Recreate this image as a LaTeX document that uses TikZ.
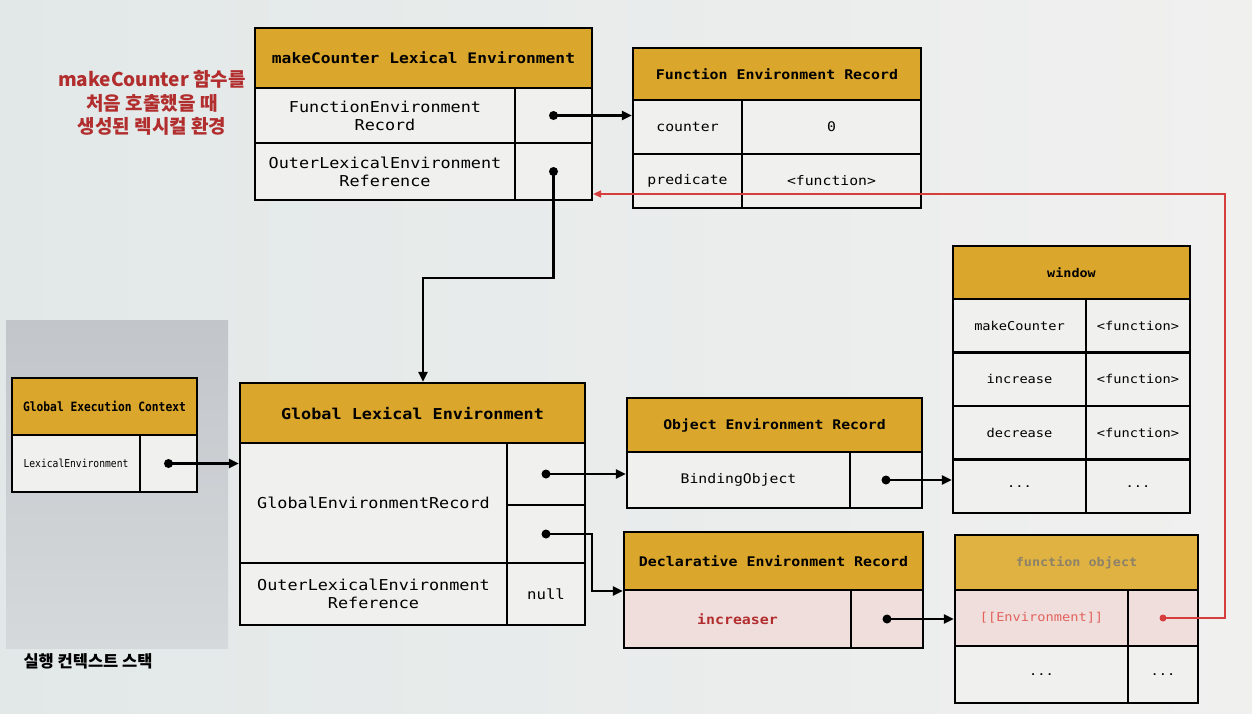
\documentclass[tikz,border=0pt]{standalone}
\usepackage{fontspec}
\usetikzlibrary{arrows.meta,calc}
\newfontfamily\mono{DejaVu Sans Mono}[FakeStretch=1.12]
\newfontfamily\monoc{DejaVu Sans Mono}[FakeStretch=0.88]
\newfontfamily\kr{Noto Sans CJK KR}
\definecolor{gold}{RGB}{219,166,44}
\definecolor{goldlt}{RGB}{224,178,66}
\definecolor{cellbg}{RGB}{240,240,238}
\definecolor{pageL}{RGB}{226,232,232}
\definecolor{pageR}{RGB}{240,240,239}
\definecolor{pinkbg}{RGB}{240,222,221}
\definecolor{krred}{RGB}{178,45,45}
\definecolor{lnred}{RGB}{214,62,62}
\definecolor{salmon}{RGB}{226,98,92}
\definecolor{stackT}{RGB}{194,198,203}
\definecolor{stackB}{RGB}{214,217,219}
\definecolor{fadetxt}{RGB}{140,130,105}
\tikzset{
  cell/.style={draw=black, line width=2.2pt, fill=cellbg, inner sep=0pt, align=center,
    font=\mono\fontsize{15}{18}\selectfont},
  cellS/.style={cell, font=\mono\fontsize{13.2}{16}\selectfont},
  cellW/.style={cell, font=\mono\fontsize{12.2}{15}\selectfont},
  head/.style={cell, fill=gold},
  dotb/.style={circle, fill=black, inner sep=0pt, minimum size=9pt},
  dotr/.style={circle, fill=lnred, inner sep=0pt, minimum size=7pt},
  arr/.style={draw=black, line width=2.4pt, -{Triangle[length=10pt,width=9pt]}},
  redarr/.style={draw=lnred, line width=1.4pt, -{Triangle[length=8pt,width=7pt]}}
}
\begin{document}
\begin{tikzpicture}[x=1pt,y=-1pt]
\useasboundingbox (0,0) rectangle (1252,713);
\shade[left color=pageL, right color=pageR] (0,0) rectangle (1252,713);
\shade[top color=stackT, bottom color=stackB] (6,320) rectangle (228,648);

% label
\node[font=\kr\bfseries\fontsize{19}{23.5}\selectfont, text=krred, align=center] (lbl) at (152,103)
  {makeCounter 함수를\\처음 호출했을 때\\생성된 렉시컬 환경};
\node[font=\kr\bfseries\fontsize{16.5}{19}\selectfont] (stk) at (88,661) {실행 컨텍스트 스택};

% makeCounter Lexical Environment
\node[head, font=\mono\bfseries\fontsize{14.5}{17}\selectfont, minimum width=337pt, minimum height=60pt] (mcH) at (423.5,58) {makeCounter Lexical Environment};
\node[cell, minimum width=260pt, minimum height=55pt] (mc1k) at (385,115.5) {FunctionEnvironment\\Record};
\node[cell, minimum width=77pt, minimum height=55pt] (mc1v) at (553.5,115.5) {};
\node[cell, minimum width=260pt, minimum height=57pt] (mc2k) at (385,171.5) {OuterLexicalEnvironment\\Reference};
\node[cell, minimum width=77pt, minimum height=57pt] (mc2v) at (553.5,171.5) {};

% Function Environment Record
\node[head, font=\mono\bfseries\fontsize{13.3}{16}\selectfont, minimum width=288pt, minimum height=52pt] (ferH) at (777,74) {Function Environment Record};
\node[cellS, minimum width=109pt, minimum height=54pt] (fer1k) at (687.5,127) {counter};
\node[cellS, minimum width=179pt, minimum height=54pt] (fer1v) at (831.5,127) {0};
\node[cellS, minimum width=109pt, minimum height=54pt] (fer2k) at (687.5,181) {predicate};
\node[cellS, minimum width=179pt, minimum height=54pt] (fer2v) at (831.5,181) {<function>};

% Global Execution Context
\node[head, font=\monoc\bfseries\fontsize{12.8}{15}\selectfont, minimum width=185pt, minimum height=57pt] (gecH) at (104.5,406.5) {Global Execution Context};
\node[cell, font=\monoc\fontsize{11}{13}\selectfont, minimum width=128pt, minimum height=57pt] (gec1k) at (76,463.5) {LexicalEnvironment};
\node[cell, minimum width=57pt, minimum height=57pt] (gec1v) at (168.5,463.5) {};

% Global Lexical Environment
\node[head, font=\mono\bfseries\fontsize{15}{18}\selectfont, minimum width=345pt, minimum height=60pt] (gleH) at (412.5,413) {Global Lexical Environment};
\node[cell, minimum width=267pt, minimum height=120pt] (gle1k) at (373.5,503) {GlobalEnvironmentRecord};
\node[cell, minimum width=78pt, minimum height=62pt] (gle1a) at (546,474) {};
\node[cell, minimum width=78pt, minimum height=58pt] (gle1b) at (546,534) {};
\node[cell, minimum width=267pt, minimum height=62pt] (gle2k) at (373.5,594) {OuterLexicalEnvironment\\Reference};
\node[cell, font=\mono\fontsize{14}{17}\selectfont, minimum width=78pt, minimum height=62pt] (gle2v) at (546,594) {null};

% Object Environment Record
\node[head, font=\mono\bfseries\fontsize{13.2}{16}\selectfont, minimum width=295pt, minimum height=54pt] (oerH) at (774.5,425) {Object Environment Record};
\node[cellS, minimum width=223pt, minimum height=56pt] (oer1k) at (738.5,480) {BindingObject};
\node[cellS, minimum width=72pt, minimum height=56pt] (oer1v) at (886,480) {};

% Declarative Environment Record
\node[head, font=\mono\bfseries\fontsize{13.3}{16}\selectfont, minimum width=299pt, minimum height=58pt] (derH) at (773.5,561) {Declarative Environment Record};
\node[cellS, fill=pinkbg, text=krred, font=\mono\bfseries\fontsize{13.3}{16}\selectfont, minimum width=227pt, minimum height=58pt] (der1k) at (737.5,619) {increaser};
\node[cellS, fill=pinkbg, minimum width=72pt, minimum height=58pt] (der1v) at (887,619) {};

% window
\node[head, font=\mono\bfseries\fontsize{12}{15}\selectfont, minimum width=237pt, minimum height=53pt] (winH) at (1071.5,272.5) {window};
\node[cellW, minimum width=133pt, minimum height=53.5pt] (w1k) at (1019.5,325.75) {makeCounter};
\node[cellW, minimum width=104pt, minimum height=53.5pt] (w1v) at (1138,325.75) {<function>};
\node[cellW, minimum width=133pt, minimum height=53.5pt] (w2k) at (1019.5,379.25) {increase};
\node[cellW, minimum width=104pt, minimum height=53.5pt] (w2v) at (1138,379.25) {<function>};
\node[cellW, minimum width=133pt, minimum height=53.5pt] (w3k) at (1019.5,432.75) {decrease};
\node[cellW, minimum width=104pt, minimum height=53.5pt] (w3v) at (1138,432.75) {<function>};
\node[cellW, minimum width=133pt, minimum height=53.5pt] (w4k) at (1019.5,486.25) {...};
\node[cellW, minimum width=104pt, minimum height=53.5pt] (w4v) at (1138,486.25) {...};

% function object
\node[head, fill=goldlt, text=fadetxt, font=\mono\bfseries\fontsize{12}{15}\selectfont, minimum width=243pt, minimum height=55pt] (foH) at (1076.5,562.5) {function object};
\node[cellW, fill=pinkbg, text=salmon, minimum width=173pt, minimum height=56pt] (fo1k) at (1041.5,618) {[[Environment]]};
\node[cellW, fill=pinkbg, minimum width=70pt, minimum height=56pt] (fo1v) at (1163,618) {};
\node[cellW, minimum width=173pt, minimum height=57pt] (fo2k) at (1041.5,674.5) {...};
\node[cellW, minimum width=70pt, minimum height=57pt] (fo2v) at (1163,674.5) {...};

% dots
\node[dotb] (d1) at (mc1v) {};
\node[dotb] (d2) at (mc2v) {};
\node[dotb] (d3) at (gec1v) {};
\node[dotb] (d4) at (gle1a) {};
\node[dotb] (d5) at (gle1b) {};
\node[dotb] (d6) at (oer1v) {};
\node[dotb] (d7) at (der1v) {};
\node[dotr] (d8) at (fo1v) {};

% bend points
\coordinate (k1) at (423,278);
\coordinate (k2) at (592,591);
\coordinate (r1) at (1225,194);

% connectors
\draw[arr] (d1.center) -- (d1.center -| fer1k.west);
\draw[arr] (d2.center) |- (k1) -- (k1 |- gleH.north);
\draw[arr] (d3.center) -- (d3.center -| gle1k.west);
\draw[arr] (d4.center) -- (d4.center -| oer1k.west);
\draw[arr] (d5.center) -| (k2) -- (k2 -| der1k.west);
\draw[arr] (d6.center) -- (d6.center -| w4k.west);
\draw[arr] (d7.center) -- (d7.center -| fo1k.west);
\draw[redarr] (d8.center) -| (r1) -- (r1 -| mc2v.east);
\end{tikzpicture}
\end{document}
